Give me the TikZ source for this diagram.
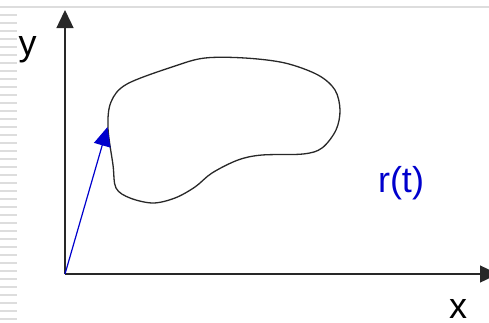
\documentclass[tikz,border=0pt]{standalone}
\usepackage{fontspec}
\setmainfont{Liberation Sans}
\usetikzlibrary{arrows.meta}
\definecolor{rulegrey}{RGB}{221,221,221}
\definecolor{axisgrey}{RGB}{40,40,40}
\definecolor{vecblue}{RGB}{0,0,205}
\begin{document}
\begin{tikzpicture}[x=1pt,y=-1pt,
  deco/.style={draw=rulegrey,line width=1.8pt},
  axisline/.style={draw=axisgrey,line width=1.4pt,-{Triangle[length=18pt,width=17pt]}},
  curveline/.style={draw=axisgrey,line width=1.3pt},
  vecline/.style={draw=vecblue,line width=1.2pt,-{Triangle[length=19pt,width=17pt]}},
  lbl/.style={inner sep=0pt,anchor=base,font=\fontsize{36}{40}\selectfont},
]
\useasboundingbox (0,0) rectangle (489,322);
\clip (0,0) rectangle (489,322);
% decoration
\draw[deco] (0,6.8) -- (489,6.8);
\foreach \k in {0,...,38}{
  \draw[deco] (0,15+8*\k) -- (17,15+8*\k);
}
% axes
\coordinate (O) at (65,274);
\coordinate (ytip) at (65,10);
\coordinate (xtip) at (498,274);
\draw[axisline] (O) -- (ytip);
\draw[axisline] (O) -- (xtip);
% closed curve
\draw[curveline] plot[smooth cycle,tension=0.55] coordinates {
  (108,128) (111,102) (127,84) (175,66) (205,58) (245,58) (285,63)
  (318,75) (335,90) (340,110) (336,130) (322,148) (303,154) (262,155)
  (238,160) (212,173) (195,187) (175,198) (153,203) (130,198) (116,188)
  (113,165)};
% position vector
\coordinate (P) at (107.5,127);
\draw[vecline] (O) -- (P);
% labels
\node[lbl] (ylab) at (27.5,55.5) {y};
\node[lbl] (xlab) at (458,318.7) {x};
\node[lbl,text=vecblue] (rlab) at (401,192) {r(t)};
\end{tikzpicture}
\end{document}
